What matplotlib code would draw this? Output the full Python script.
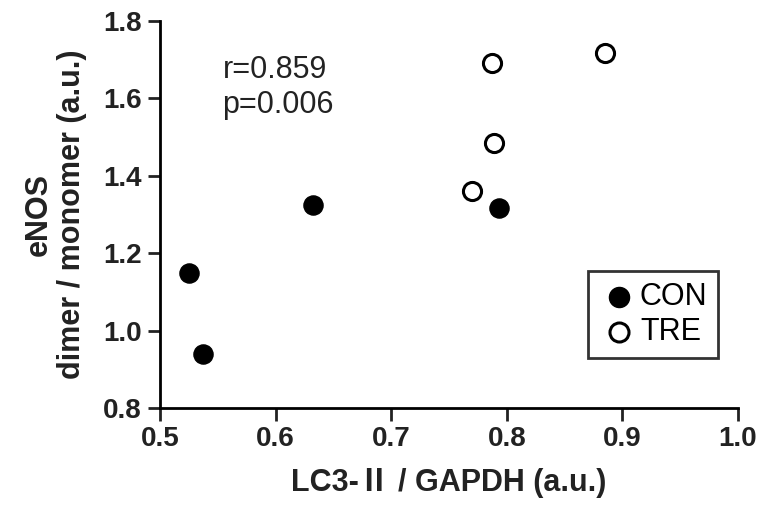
import matplotlib
matplotlib.use("Agg")
import matplotlib.pyplot as plt

plt.rcParams['font.family'] = ['Liberation Sans', 'Noto Sans CJK JP', 'DejaVu Sans']

# LC3-II / GAPDH vs eNOS dimer/monomer
con_x = [0.525, 0.537, 0.632, 0.793]
con_y = [1.150, 0.940, 1.325, 1.317]
tre_x = [0.770, 0.787, 0.789, 0.885]
tre_y = [1.360, 1.691, 1.485, 1.718]

xticks = [0.5, 0.6, 0.7, 0.8, 0.9, 1.0]
yticks = [0.8, 1.0, 1.2, 1.4, 1.6, 1.8]

fig = plt.figure(figsize=(7.6, 5.09), dpi=100)
ax = fig.add_axes([0.2105, 0.198, 0.7605, 0.761])

ax.scatter(con_x, con_y, s=190, c='black', edgecolors='black', linewidths=1.0,
           label='CON', zorder=3, clip_on=False)
ax.scatter(tre_x, tre_y, s=170, c='white', edgecolors='black', linewidths=2.2,
           label='TRE', zorder=3, clip_on=False)

ax.set_xlim(0.5, 1.0)
ax.set_ylim(0.8, 1.8)
ax.set_xticks(xticks)
ax.set_yticks(yticks)
ax.set_xticklabels([f"{v:.1f}" for v in xticks], fontweight='bold')
ax.set_yticklabels([f"{v:.1f}" for v in yticks], fontweight='bold')

for s in ['top', 'right']:
    ax.spines[s].set_visible(False)
for s in ['left', 'bottom']:
    ax.spines[s].set_linewidth(2)
ax.tick_params(width=2, length=9, labelsize=20, colors='#222222', pad=4)

ax.set_xlabel("LC3-Ⅱ / GAPDH (a.u.)", fontsize=22, fontweight='bold', labelpad=11,
              color='#222222')
ax.set_ylabel("eNOS\ndimer / monomer (a.u.)", fontsize=22, fontweight='bold', labelpad=12,
              linespacing=1.1, color='#222222')

ax.text(0.554, 1.712, "r=0.859\np=0.006", fontsize=22, va='top', ha='left',
        linespacing=1.2, color='#222222')

leg = ax.legend(loc='lower right', bbox_to_anchor=(0.966, 0.13), fontsize=22,
                frameon=True, fancybox=False, edgecolor='black', handletextpad=0.05,
                borderpad=0.35, labelspacing=0.18, handlelength=1.3, scatterpoints=1,
                borderaxespad=0, markerscale=1.05)
leg.get_frame().set_linewidth(2)

fig.savefig("out.png", dpi=100)
